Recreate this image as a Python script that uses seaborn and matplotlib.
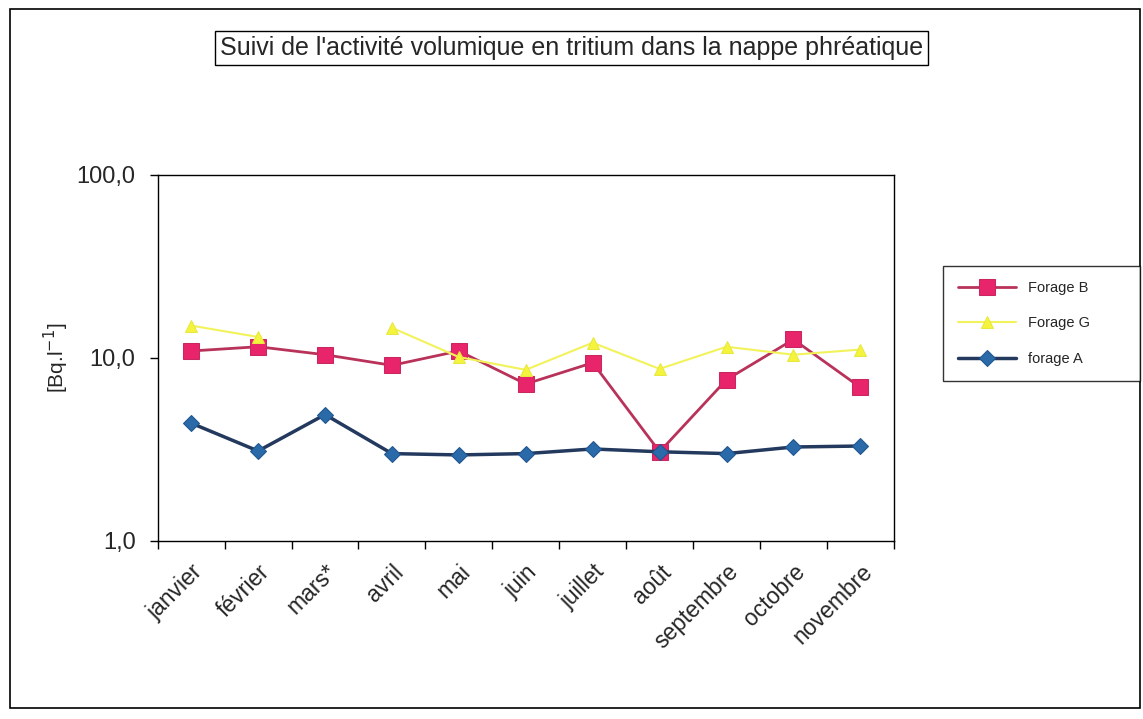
import matplotlib
matplotlib.use("Agg")
import matplotlib.pyplot as plt
from matplotlib.patches import Rectangle
import numpy as np
import pandas as pd
import seaborn as sns

sns.set_style("white")
plt.rcParams['font.family'] = ['Liberation Sans', 'DejaVu Sans']

# months as written on the chart
mois = ["janvier", "février", "mars*", "avril", "mai", "juin", "juillet",
        "août", "septembre", "octobre", "novembre"]

# activity in Bq/l
forage_b = [10.9, 11.5, 10.4, 9.1, 10.9, 7.2, 9.4, 3.07, 7.6, 12.6, 6.9]
forage_g = [15.0, 13.0, np.nan, 14.6, 10.1, 8.6, 12.1, 8.7, 11.5, 10.4, 11.1]
forage_a = [4.4, 3.1, 4.9, 3.0, 2.95, 3.0, 3.18, 3.07, 3.0, 3.26, 3.3]

df = pd.DataFrame({"pos": np.arange(len(mois)), "mois": mois,
                   "Forage B": forage_b, "Forage G": forage_g,
                   "forage A": forage_a})

fig = plt.figure(figsize=(11.43, 7.19), dpi=100)
ax = fig.add_axes([0.138, 0.2476, 0.644, 0.5094])

styles = {
    "Forage B": dict(color="#b8325a", marker="s", markersize=11,
                     markerfacecolor="#e8246a", markeredgecolor="#c8285e",
                     linewidth=2),
    "Forage G": dict(color="#f2f25a", marker="^", markersize=8,
                     markerfacecolor="#f4f43c", markeredgecolor="#e8e840",
                     linewidth=1.5),
    "forage A": dict(color="#23395e", marker="D", markersize=8,
                     markerfacecolor="#2a6aa8", markeredgecolor="#1f5590",
                     linewidth=2.5),
}

for name in ["Forage B", "Forage G", "forage A"]:
    sub = df[["pos", name]].copy()
    # a missing month breaks the line, as in the original
    sub["seg"] = sub[name].isna().cumsum()
    sub = sub.dropna()
    sns.lineplot(data=sub, x="pos", y=name, units="seg", ax=ax, label=name,
                 estimator=None, **styles[name])

ax.set_yscale("log")
ax.set_ylim(1, 100)
ax.set_yticks([1, 10, 100])
ax.set_yticklabels(["1,0", "10,0", "100,0"], fontsize=17)
ax.yaxis.set_minor_locator(matplotlib.ticker.NullLocator())

ax.set_xlim(-0.5, len(mois) - 0.5)
ax.set_xticks(np.arange(-0.5, len(mois), 1.0))
ax.set_xticklabels([])
ax.set_xticks(np.arange(len(mois)), minor=True)
ax.set_xticklabels(mois, minor=True, rotation=45, ha="right",
                   rotation_mode="anchor", fontsize=16.5)
ax.tick_params(axis="x", which="minor", length=0, pad=14)
ax.tick_params(axis="both", which="major", direction="out", length=6,
               width=1, color="black", bottom=True, left=True)
ax.tick_params(axis="y", pad=10)

ax.set_xlabel("")
ax.set_ylabel("[Bq.l$^{-1}$]", fontsize=15, labelpad=4)

for s in ax.spines.values():
    s.set_color("black")
    s.set_linewidth(1)

ax.get_legend().remove()
h, l = ax.get_legend_handles_labels()
seen = {}
for hh, ll in zip(h, l):
    seen.setdefault(ll, hh)
leg = fig.legend(list(seen.values()), list(seen.keys()), loc="upper left",
                 bbox_to_anchor=(0.825, 0.53, 0.172, 0.1), mode="expand",
                 frameon=True, fancybox=False, edgecolor="black",
                 fontsize=10.5, handlelength=4, labelspacing=1.5,
                 borderpad=1.0, borderaxespad=0)
leg.get_frame().set_linewidth(1)

fig.text(0.5, 0.933, "Suivi de l'activité volumique en tritium dans la nappe phréatique",
         ha="center", va="center", fontsize=18,
         bbox=dict(boxstyle="square,pad=0.2", facecolor="white",
                   edgecolor="black", linewidth=1))

# outer chart frame
fig.patches.append(Rectangle((0.009, 0.015), 0.988, 0.973, transform=fig.transFigure,
                             fill=False, edgecolor="black", linewidth=1.2))

fig.savefig("out.png", dpi=100)
